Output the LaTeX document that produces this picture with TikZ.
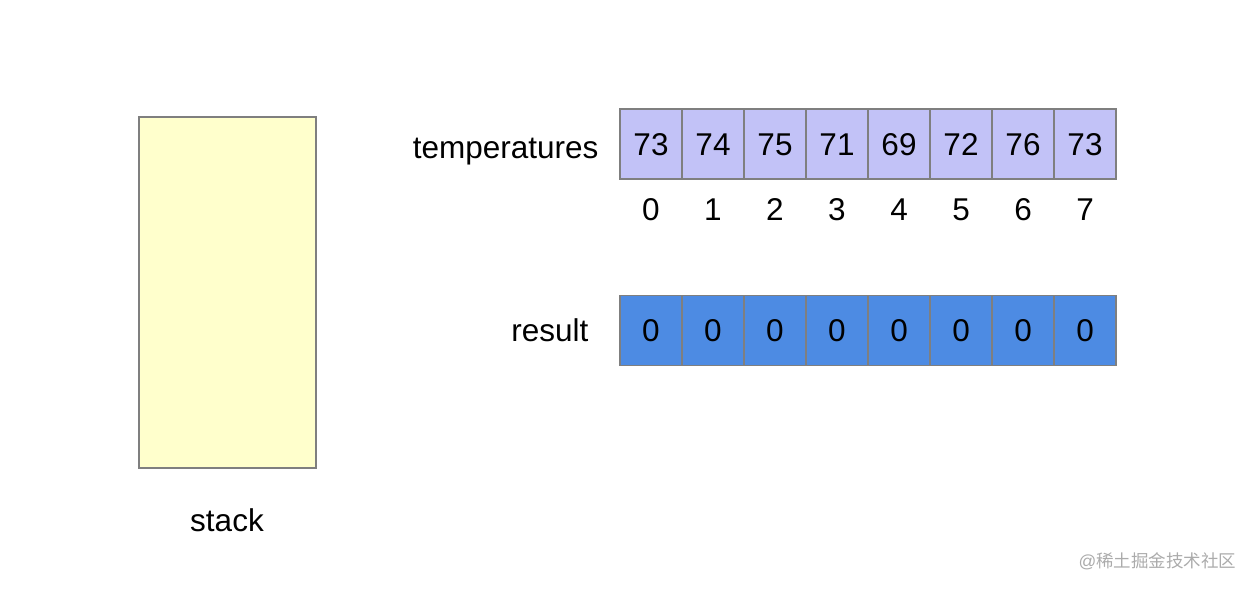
\documentclass[tikz,border=0pt]{standalone}
\usepackage{fontspec}
\setmainfont{Liberation Sans}
\newfontfamily\cjkfont{Noto Sans CJK SC}
\definecolor{tempfill}{HTML}{C2C2F7}
\definecolor{resfill}{HTML}{4D8BE3}
\definecolor{stackfill}{HTML}{FFFFCC}
\definecolor{cellline}{HTML}{7F7F7F}
\definecolor{markgray}{HTML}{ABABAB}
\tikzset{
  cell/.style={draw=cellline, line width=1.2pt, minimum width=62pt, minimum height=70pt, inner sep=0pt},
  bigtext/.style={font=\fontsize{31.5}{36}\selectfont},
  digit/.style={bigtext, text height=22.5pt, text depth=0pt}
}
\begin{document}
\begin{tikzpicture}[x=1pt, y=-1pt]
    \useasboundingbox (0,0) rectangle (1256,590);

    % stack
    \node[draw=cellline, line width=1.2pt, fill=stackfill, minimum width=177pt, minimum height=351pt, inner sep=0pt] (stack) at (227.5,292.5) {};
    \node[bigtext] (stacklabel) at (227,520) {stack};

    % temperatures
    \node[bigtext, anchor=east] (templabel) at (602,152) {temperatures};
    \foreach \v [count=\i from 0] in {73,74,75,71,69,72,76,73} {
      \node[cell, fill=tempfill, digit] (t\i) at (651+62*\i, 144) {\v};
      \node[digit] (idx\i) at (651+62*\i, 209) {\i};
    }

    % result
    \node[bigtext, anchor=east] (reslabel) at (592,330) {result};
    \foreach \i in {0,...,7} {
      \node[cell, fill=resfill, digit] (r\i) at (651+62*\i, 330.5) {0};
    }

    \node[text=markgray, font=\fontsize{17.5}{20}\selectfont, anchor=east] (mark) at (1240,561) {@{\cjkfont 稀土掘金技术社区}};

  \end{tikzpicture}
\end{document}
